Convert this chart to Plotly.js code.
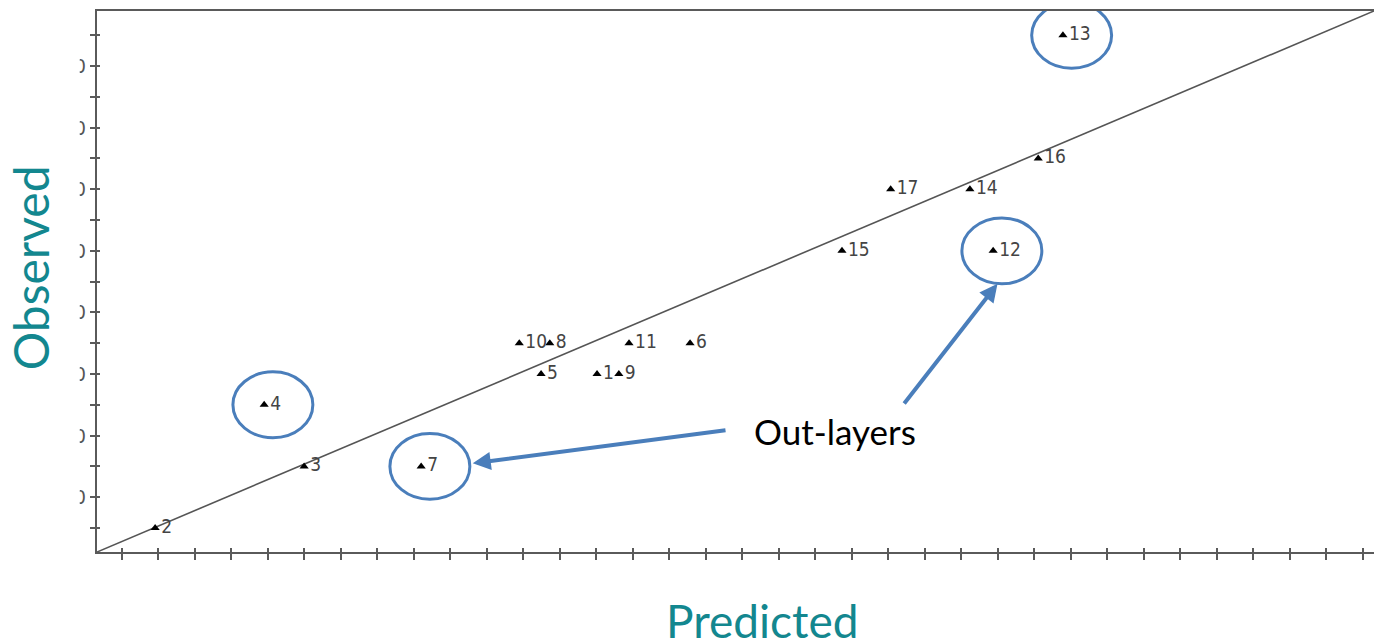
<!DOCTYPE html>
<html>
<head>
<meta charset="utf-8">
<script src="https://cdn.plot.ly/plotly-3.0.1.min.js"></script>
<style>html,body{margin:0;padding:0;background:#fff;overflow:hidden}</style>
</head>
<body>
<div id="chart" style="width:1374px;height:641px"></div>
<script>
// ---- data ----
const sampleIds = ['1','2','3','4','5','6','7','8','9','10','11','12','13','14','15','16','17'];
const predicted = [7.10, 1.02, 3.07, 2.52, 6.33, 8.38, 4.68, 6.45, 7.40, 6.03, 7.54, 12.55, 13.51, 12.23, 10.47, 13.17, 11.14];
const observed  = [6, 1, 3, 5, 6, 7, 3, 7, 6, 7, 7, 10, 17, 12, 10, 13, 12];
const outlierIds = ['4', '7', '12', '13'];
const refLineX = [0, 18];
const refLineY = [0, 18];
const yTickVals = [1,2,3,4,5,6,7,8,9,10,11,12,13,14,15,16,17];
const yTickText = ['', '0', '', '0', '', '0', '', '0', '', '0', '', '0', '', '0', '', '0', ''];
const xTitle = 'Predicted';
const yTitle = 'Observed';
const noteText = 'Out-layers';

// ---- styling ----
const axisRange = [0.22, 17.79];
const xTick0 = 0.564, xTickStep = 0.502;
const axisColor = '#5a5a5a';
const blue = '#4a7ebb';
const teal = '#13878f';
const circleRx = 0.55, circleRy = 1.07, circleDx = 0.12;

const pointTrace = {
  type: 'scatter', mode: 'markers+text',
  x: predicted, y: observed, text: sampleIds,
  textposition: 'middle right',
  textfont: {family: 'DejaVu Sans Condensed, DejaVu Sans, sans-serif', size: 19, color: '#444'},
  marker: {symbol: 'triangle-up', size: 8, color: '#000'},
  cliponaxis: false, hoverinfo: 'x+y+text', showlegend: false
};
const lineTrace = {
  type: 'scatter', mode: 'lines', x: refLineX, y: refLineY,
  line: {color: '#555', width: 1.6}, hoverinfo: 'skip', showlegend: false
};

const shapes = [];
const centers = {};
outlierIds.forEach(id => {
  const i = sampleIds.indexOf(id);
  const cx = predicted[i] + circleDx, cy = observed[i];
  centers[id] = [cx, cy];
  shapes.push({type: 'circle', xref: 'x', yref: 'y',
    x0: cx - circleRx, x1: cx + circleRx, y0: cy - circleRy, y1: cy + circleRy,
    line: {color: blue, width: 3}, layer: 'above'});
});
// white cover hiding the clipped left part of the y tick labels
shapes.push({type: 'rect', xref: 'paper', yref: 'paper', x0: -0.08, x1: -0.0135, y0: -0.03, y1: 1.02,
  fillcolor: '#fff', line: {width: 0}, layer: 'above'});

const c7 = centers['7'], c12 = centers['12'];
const annotations = [
  {x: c7[0] + circleRx + 0.04, y: c7[1] + 0.1, xref: 'x', yref: 'y', ax: 8.888, ay: 4.182, axref: 'x', ayref: 'y',
   text: '', showarrow: true, arrowhead: 2, arrowsize: 0.9, arrowwidth: 4, arrowcolor: blue, standoff: 0},
  {x: c12[0] - 0.06, y: c12[1] - circleRy, xref: 'x', yref: 'y', ax: 11.31, ay: 4.994, axref: 'x', ayref: 'y',
   text: '', showarrow: true, arrowhead: 2, arrowsize: 0.9, arrowwidth: 4, arrowcolor: blue, standoff: 0},
  {x: 10.374, y: 4.15, xref: 'x', yref: 'y', text: noteText, showarrow: false,
   font: {family: 'Lato, sans-serif', size: 35, color: '#000'}, xanchor: 'center', yanchor: 'middle'},
  {x: 0.5204, y: -0.127, xref: 'paper', yref: 'paper', text: xTitle, showarrow: false,
   font: {family: 'Lato, sans-serif', size: 46, color: teal}, xanchor: 'center', yanchor: 'middle'},
  {x: -0.0515, y: 0.525, xref: 'paper', yref: 'paper', text: yTitle, showarrow: false, textangle: -90,
   font: {family: 'Lato, sans-serif', size: 48, color: teal}, xanchor: 'center', yanchor: 'middle'}
];

const layout = {
  width: 1374, height: 641,
  margin: {l: 97, r: 0, t: 11, b: 89},
  paper_bgcolor: '#fff', plot_bgcolor: '#fff',
  showlegend: false,
  xaxis: {range: axisRange, showgrid: false, zeroline: false, showline: true, mirror: true,
    linecolor: axisColor, linewidth: 2, ticks: 'outside', ticklen: 6, tickwidth: 2, tickcolor: axisColor,
    tick0: xTick0, dtick: xTickStep, showticklabels: false},
  xaxis2: {range: axisRange, overlaying: 'x', anchor: 'y', showgrid: false, zeroline: false, showline: false,
    ticks: 'inside', ticklen: 4, tickwidth: 2, tickcolor: axisColor, tick0: xTick0, dtick: xTickStep,
    showticklabels: false, side: 'bottom'},
  yaxis: {range: axisRange, showgrid: false, zeroline: false, showline: true, mirror: false,
    linecolor: axisColor, linewidth: 2, ticks: 'outside', ticklen: 5, tickwidth: 2, tickcolor: axisColor,
    tickmode: 'array', tickvals: yTickVals, ticktext: yTickText, ticklabelstandoff: 0,
    tickfont: {family: 'DejaVu Sans Condensed, DejaVu Sans, sans-serif', size: 20, color: '#555'}},
  yaxis2: {range: axisRange, overlaying: 'y', anchor: 'x', side: 'left', showgrid: false, zeroline: false,
    showline: false, ticks: 'inside', ticklen: 3, tickwidth: 2, tickcolor: axisColor,
    tickmode: 'array', tickvals: yTickVals, showticklabels: false},
  shapes: shapes,
  annotations: annotations
};

Plotly.newPlot('chart', [lineTrace, pointTrace, {type: 'scatter', x: [], y: [], xaxis: 'x2', yaxis: 'y2', showlegend: false}], layout,
  {displayModeBar: false, staticPlot: true});
</script>
</body>
</html>
